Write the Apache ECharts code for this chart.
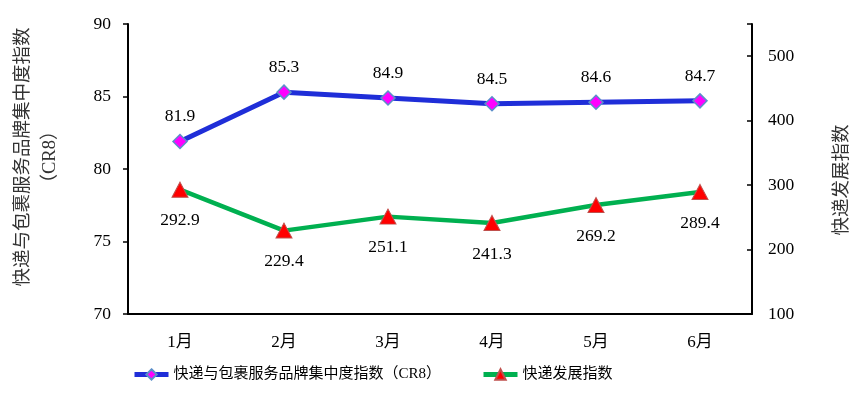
<!DOCTYPE html>
<html>
<head>
<meta charset="utf-8">
<script src="https://cdn.jsdelivr.net/npm/echarts@6/dist/echarts.min.js"></script>
<style>
  html, body { margin: 0; padding: 0; background: #fff; }
  #main { width: 865px; height: 399px; }
</style>
</head>
<body>
<div id="main"></div>
<script>
const months = ['1月', '2月', '3月', '4月', '5月', '6月'];
const cr8Values = [81.9, 85.3, 84.9, 84.5, 84.6, 84.7];
const devValues = [292.9, 229.4, 251.1, 241.3, 269.2, 289.4];
const cr8Name = '快递与包裹服务品牌集中度指数（CR8）';
const devName = '快递发展指数';

const numFont = '"Liberation Serif", "Times New Roman", serif';
const cjkFont = '"Liberation Serif", "Noto Sans CJK SC", serif';

const legendBase = {
  bottom: 12,
  itemWidth: 34,
  itemHeight: 13,
  textStyle: { fontSize: 15, fontFamily: cjkFont, color: '#000' },
  lineStyle: { width: 5 },
};

const chart = echarts.init(document.getElementById('main'));
const option = {
  animation: false,
  textStyle: { fontFamily: cjkFont, color: '#000' },
  grid: { left: 128, right: 113, top: 24, bottom: 85, outerBoundsMode: 'none', containLabel: false },
  legend: [
    Object.assign({}, legendBase, { left: 127, data: [cr8Name] }),
    Object.assign({}, legendBase, { left: 476, data: [devName] }),
  ],
  xAxis: {
    type: 'category',
    data: months,
    boundaryGap: true,
    axisLine: { lineStyle: { color: '#000', width: 2 } },
    axisTick: { inside: true, length: 5, lineStyle: { color: '#000', width: 1.5 } },
    axisLabel: { fontSize: 17, margin: 20, color: '#000', fontFamily: cjkFont },
  },
  yAxis: [
    {
      type: 'value',
      min: 70,
      max: 90,
      interval: 5,
      name: '快递与包裹服务品牌集中度指数\n（CR8）',
      nameLocation: 'middle',
      nameRotate: 90,
      nameGap: 64,
      nameTextStyle: {
        fontSize: 18.5, color: '#333', fontFamily: cjkFont, lineHeight: 27,
        padding: [0, 0, 0, 24],
      },
      axisLine: { show: true, lineStyle: { color: '#000', width: 2 } },
      axisTick: { show: true, length: 5, lineStyle: { color: '#000', width: 1.5 } },
      axisLabel: { fontSize: 17.5, margin: 17, color: '#000', fontFamily: numFont },
      splitLine: { show: false },
    },
    {
      type: 'value',
      min: 100,
      max: 550,
      interval: 100,
      name: devName,
      nameLocation: 'middle',
      nameRotate: 90,
      nameGap: 81,
      nameTextStyle: {
        fontSize: 18.5, color: '#333', fontFamily: cjkFont,
        padding: [0, 22, 0, 0],
      },
      axisLine: { show: true, lineStyle: { color: '#000', width: 2 } },
      axisTick: { show: true, inside: true, length: 5, lineStyle: { color: '#000', width: 1.5 } },
      axisLabel: {
        fontSize: 17.5, margin: 16, color: '#000', fontFamily: numFont,
        formatter: v => (v % 100 === 0 ? String(v) : ''),
      },
      splitLine: { show: false },
    },
  ],
  series: [
    {
      name: cr8Name,
      type: 'line',
      yAxisIndex: 0,
      data: cr8Values,
      symbol: 'diamond',
      symbolSize: 14,
      lineStyle: { color: '#1f2ed8', width: 5 },
      itemStyle: { color: '#ff00ff', borderColor: '#5b8fc9', borderWidth: 1.5 },
      label: {
        show: true, position: 'top', distance: 8,
        fontSize: 17.5, color: '#000', fontFamily: numFont,
        formatter: p => p.value.toFixed(1),
      },
      z: 3,
    },
    {
      name: devName,
      type: 'line',
      yAxisIndex: 1,
      data: devValues,
      symbol: 'triangle',
      symbolSize: [16, 15],
      lineStyle: { color: '#00b050', width: 4.5 },
      itemStyle: { color: '#ff0000', borderColor: '#c0504d', borderWidth: 1 },
      label: {
        show: true, position: 'bottom', distance: 14,
        fontSize: 17.5, color: '#000', fontFamily: numFont,
        formatter: p => p.value.toFixed(1),
      },
      z: 2,
    },
  ],
};
chart.setOption(option);
</script>
</body>
</html>
